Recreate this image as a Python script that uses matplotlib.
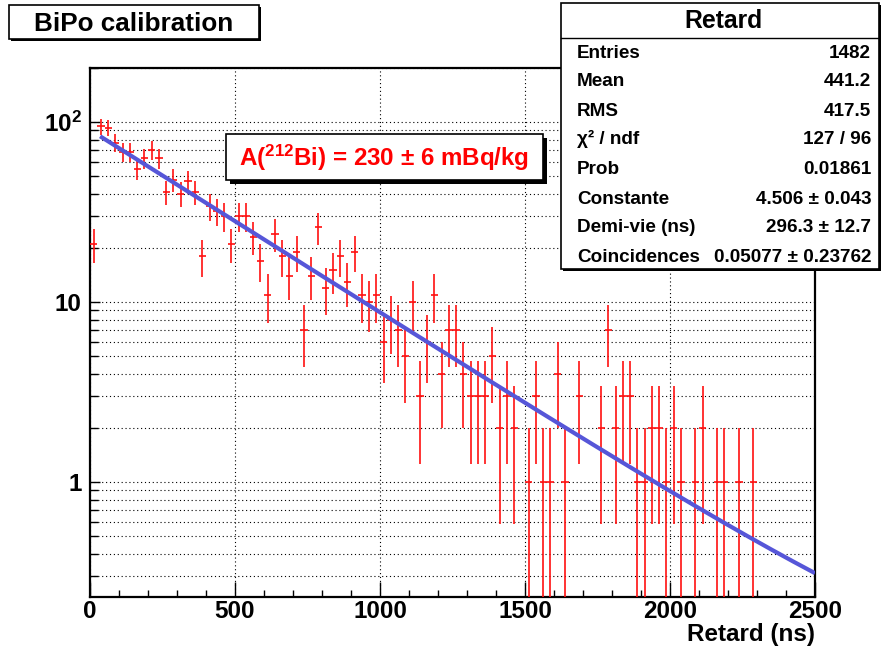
import numpy as np
import matplotlib
matplotlib.use("Agg")
import matplotlib.pyplot as plt
from matplotlib.patches import Rectangle
from matplotlib.ticker import MultipleLocator, LogLocator, NullFormatter, FixedLocator

plt.rcParams['font.family'] = ['Liberation Sans', 'DejaVu Sans']
plt.rcParams['font.weight'] = 'bold'
plt.rcParams['mathtext.fontset'] = 'custom'
plt.rcParams['mathtext.rm'] = 'Liberation Sans:bold'
plt.rcParams['mathtext.bf'] = 'Liberation Sans:bold'
plt.rcParams['mathtext.it'] = 'Liberation Sans:bold:italic'
plt.rcParams['mathtext.default'] = 'bf'

# ---------------- data ----------------
bin_width = 25.0
counts = [21, 95, 93, 77, 68, 68, 55, 63, 70, 63,
          41, 48, 40, 47, 41, 18, 34, 32, 30, 21,
          30, 30, 23, 17, 11, 24, 18, 14, 19, 7,
          14, 26, 12, 15, 18, 13, 19, 11, 10, 11,
          6, 8, 7, 5, 10, 3, 6, 11, 4, 7,
          7, 4, 3, 3, 3, 5, 2, 3, 2, 0,
          1, 3, 1, 1, 4, 1, 0, 3, 0, 0,
          2, 7, 2, 3, 3, 1, 1, 2, 2, 1,
          2, 1, 0, 1, 2, 0, 1, 1, 0, 1,
          0, 1, 0, 0, 0, 0, 0, 0, 0, 0]
fit_constante = 4.506
fit_demivie = 296.3
fit_coinc = 0.05077
fit_range = [35.0, 2500.0]

stats_labels = ["Entries", "Mean", "RMS", "\u03c7\u00b2 / ndf", "Prob",
                "Constante", "Demi-vie (ns)", "Coincidences"]
stats_values = ["1482", "441.2", "417.5", "127 / 96", "0.01861",
                "4.506 \u00b1 0.043", "296.3 \u00b1 12.7", "0.05077 \u00b1 0.23762"]
x_ticks = [0, 500, 1000, 1500, 2000, 2500]
y_ticks = [1, 10, 100]
y_ticklabels = ["1", "10", r"$10^{2}$"]

W, H = 886, 653
fig = plt.figure(figsize=(W / 100, H / 100), dpi=100)
def fx(x): return x / W
def fy(y): return 1 - y / H

ax = fig.add_axes([fx(90), fy(597), fx(815) - fx(90), fy(68) - fy(597)])

c = np.array(counts, dtype=float)
centers = np.arange(len(c)) * bin_width + bin_width / 2
m = c > 0
err = np.sqrt(c[m])
lo = np.minimum(err, c[m] - 1e-4)
ax.errorbar(centers[m], c[m], yerr=[lo, err], xerr=bin_width / 2, fmt='none',
            ecolor='#ff1010', elinewidth=1.2, capsize=0, zorder=3)

xf = np.linspace(fit_range[0], fit_range[1], 400)
yf = np.exp(fit_constante - np.log(2) * xf / fit_demivie) + fit_coinc
ax.plot(xf, yf, color='#5656d8', lw=3.0, zorder=4, solid_capstyle='butt')

ax.set_yscale('log')
ax.set_xlim(0, 2500)
ax.set_ylim(0.23, 200)
ax.xaxis.set_major_locator(FixedLocator(x_ticks))
ax.xaxis.set_minor_locator(MultipleLocator(100))
ax.yaxis.set_major_locator(FixedLocator(y_ticks))
ax.set_yticklabels(y_ticklabels)
ax.yaxis.set_minor_locator(LogLocator(base=10, subs=np.arange(2, 10)))
ax.yaxis.set_minor_formatter(NullFormatter())
ax.set_xticklabels([str(t) for t in x_ticks])

ax.tick_params(axis='both', which='both', direction='in', top=False, right=False,
               width=1.0, labelsize=17.5)
ax.tick_params(axis='x', which='major', length=11, pad=2)
ax.tick_params(axis='x', which='minor', length=5)
ax.tick_params(axis='y', which='major', length=7, pad=6)
ax.tick_params(axis='y', which='minor', length=6)
for lab in ax.get_xticklabels() + ax.get_yticklabels():
    lab.set_fontweight('bold')

ax.xaxis.grid(True, which='major', ls=(0, (1, 2.5)), color='black', lw=0.8)
ax.yaxis.grid(True, which='both', ls=(0, (1, 2.5)), color='black', lw=0.8)
for s in ax.spines.values():
    s.set_linewidth(1.6)

fig.text(fx(815), fy(635), "Retard (ns)", ha='right', va='center', fontsize=17.5,
         fontweight='bold')

# boxes with ROOT-like shadows
def shadow_box(x0, y0, x1, y1, off, lw=1.2, z=10):
    fig.add_artist(Rectangle((fx(x0 + off), fy(y1 + off)), fx(x1) - fx(x0), fy(y0) - fy(y1),
                             transform=fig.transFigure, facecolor='black', edgecolor='none', zorder=z))
    fig.add_artist(Rectangle((fx(x0), fy(y1)), fx(x1) - fx(x0), fy(y0) - fy(y1),
                             transform=fig.transFigure, facecolor='white', edgecolor='black',
                             lw=lw, zorder=z + 0.1))

shadow_box(9, 5, 259, 39, 2)
fig.text(fx(134), fy(24), "BiPo calibration", ha='center', va='center', fontsize=18.8,
         fontweight='bold', zorder=12)

# fit result box
shadow_box(226, 134, 543, 180, 4)
fig.text(fx(384), fy(158), r"A($^{212}$Bi) = 230 $\pm$ 6 mBq/kg", ha='center', va='center',
         fontsize=17.4, fontweight='bold', color='#ff0000', zorder=12)

# stats box
shadow_box(561, 3, 879, 269, 2)
fig.add_artist(plt.Line2D([fx(561), fx(879)], [fy(38), fy(38)], transform=fig.transFigure,
                          color='black', lw=1.0, zorder=12))
fig.text(fx(723), fy(21), "Retard", ha='center', va='center', fontsize=17.8,
         fontweight='bold', zorder=12)
row_y = [53, 82, 111, 139, 169, 199, 227, 257]
for yy, lab, val in zip(row_y, stats_labels, stats_values):
    fig.text(fx(577), fy(yy), lab, ha='left', va='center', fontsize=13.6,
             fontweight='bold', zorder=12)
    fig.text(fx(871), fy(yy), val, ha='right', va='center', fontsize=13.6,
             fontweight='bold', zorder=12)

fig.savefig("out.png", dpi=100, facecolor='white')
